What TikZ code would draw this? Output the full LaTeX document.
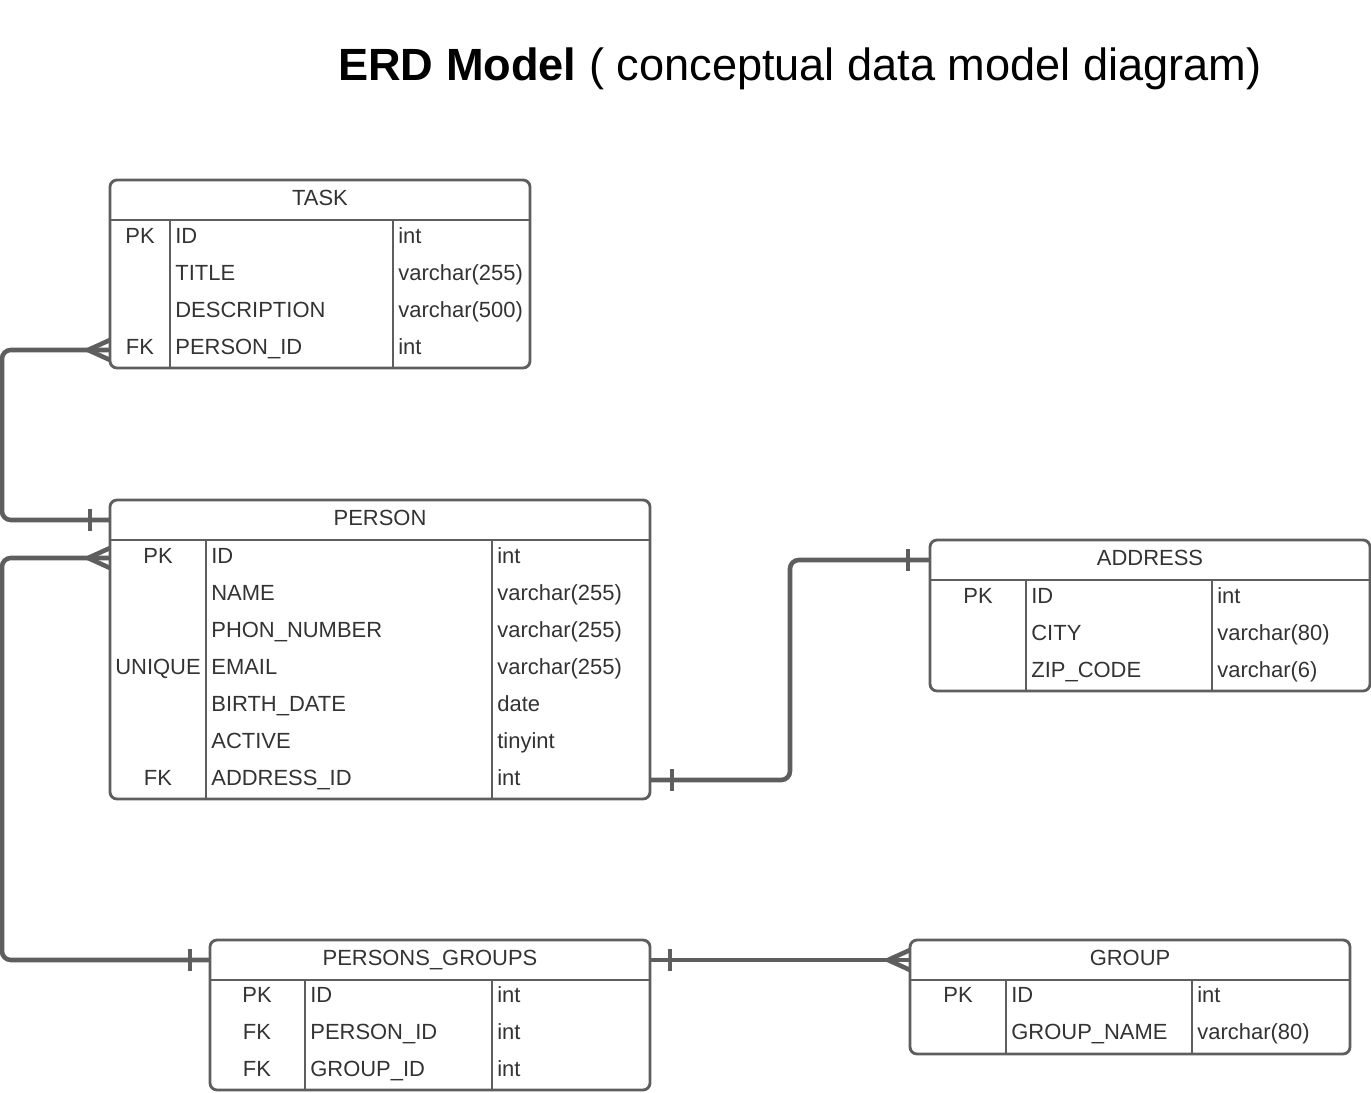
\documentclass[tikz,border=0pt]{standalone}
\usepackage{fontspec}
\setmainfont{Liberation Sans}
\usepackage{tikz}
\usetikzlibrary{positioning}
\definecolor{linegray}{HTML}{5E5E5E}
\definecolor{txtgray}{HTML}{333333}
\begin{document}
\begin{tikzpicture}[x=0.02cm,y=-0.02cm,
		tbl/.style={draw=linegray,line width=1.6pt,rounded corners=4pt},
		sep/.style={draw=linegray,line width=1.6pt},
		conn/.style={draw=linegray,line width=2.6pt,rounded corners=5pt},
		head/.style={text=txtgray,font=\fontsize{12.5}{15}\selectfont,anchor=base},
		key/.style={text=txtgray,font=\fontsize{12.5}{15}\selectfont,anchor=base},
		cell/.style={text=txtgray,font=\fontsize{12.5}{15}\selectfont,anchor=base west}]
		\tikzstyle{every node}+=[inner sep=0pt]
		\useasboundingbox (0,0) rectangle (1371,1092);
		\node [anchor=base] (title) at (800,80) {\fontsize{25.7}{30}\selectfont\textbf{ERD Model} ( conceptual data model diagram)};
		% TASK
		\draw [tbl] (110,180) rectangle (530,368);
		\draw [sep] (110,220) -- (530,220);
		\draw [sep] (170,220) -- (170,368);
		\draw [sep] (393,220) -- (393,368);
		\node [head] (task) at (320,205) {TASK};
		\node [key] (taskpk) at (140,243) {PK};
		\node [cell] (taskid) at (175,243) {ID};
		\node [cell] (taskidt) at (398,243) {int};
		\node [cell] (tasktitle) at (175,280) {TITLE};
		\node [cell] (tasktitlet) at (398,280) {varchar(255)};
		\node [cell] (taskdesc) at (175,317) {DESCRIPTION};
		\node [cell] (taskdesct) at (398,317) {varchar(500)};
		\node [key] (taskfkk) at (140,354) {FK};
		\node [cell] (taskpers) at (175,354) {PERSON\_ID};
		\node [cell] (taskperst) at (398,354) {int};
		% PERSON
		\draw [tbl] (110,500) rectangle (650,799);
		\draw [sep] (110,540) -- (650,540);
		\draw [sep] (206,540) -- (206,799);
		\draw [sep] (492,540) -- (492,799);
		\node [head] (person) at (380,525) {PERSON};
		\node [key] (personpk) at (158,563) {PK};
		\node [cell] (personidn) at (211,563) {ID};
		\node [cell] (personidt) at (497,563) {int};
		\node [cell] (personname) at (211,600) {NAME};
		\node [cell] (personnamet) at (497,600) {varchar(255)};
		\node [cell] (personphon) at (211,637) {PHON\_NUMBER};
		\node [cell] (personphont) at (497,637) {varchar(255)};
		\node [key] (personuq) at (158,674) {UNIQUE};
		\node [cell] (personmail) at (211,674) {EMAIL};
		\node [cell] (personmailt) at (497,674) {varchar(255)};
		\node [cell] (personbirth) at (211,711) {BIRTH\_DATE};
		\node [cell] (personbirtht) at (497,711) {date};
		\node [cell] (personact) at (211,748) {ACTIVE};
		\node [cell] (personactt) at (497,748) {tinyint};
		\node [key] (personfk) at (158,785) {FK};
		\node [cell] (personaddrn) at (211,785) {ADDRESS\_ID};
		\node [cell] (personaddrt) at (497,785) {int};
		% ADDRESS
		\draw [tbl] (930,540) rectangle (1370,691);
		\draw [sep] (930,580) -- (1370,580);
		\draw [sep] (1026,580) -- (1026,691);
		\draw [sep] (1212,580) -- (1212,691);
		\node [head] (address) at (1150,565) {ADDRESS};
		\node [key] (addrpk) at (978,603) {PK};
		\node [cell] (addrid) at (1031,603) {ID};
		\node [cell] (addridt) at (1217,603) {int};
		\node [cell] (addrcity) at (1031,640) {CITY};
		\node [cell] (addrcityt) at (1217,640) {varchar(80)};
		\node [cell] (addrzip) at (1031,677) {ZIP\_CODE};
		\node [cell] (addrzipt) at (1217,677) {varchar(6)};
		% PERSONS_GROUPS
		\draw [tbl] (210,940) rectangle (650,1090);
		\draw [sep] (210,980) -- (650,980);
		\draw [sep] (305,980) -- (305,1090);
		\draw [sep] (492,980) -- (492,1090);
		\node [head] (pg) at (430,965) {PERSONS\_GROUPS};
		\node [key] (pgpk) at (257,1002) {PK};
		\node [cell] (pgid) at (310,1002) {ID};
		\node [cell] (pgidt) at (497,1002) {int};
		\node [key] (pgfka) at (257,1039) {FK};
		\node [cell] (pgpers) at (310,1039) {PERSON\_ID};
		\node [cell] (pgperst) at (497,1039) {int};
		\node [key] (pgfkb) at (257,1076) {FK};
		\node [cell] (pggrp) at (310,1076) {GROUP\_ID};
		\node [cell] (pggrpt) at (497,1076) {int};
		% GROUP
		\draw [tbl] (910,940) rectangle (1350,1054);
		\draw [sep] (910,980) -- (1350,980);
		\draw [sep] (1006,980) -- (1006,1054);
		\draw [sep] (1192,980) -- (1192,1054);
		\node [head] (group) at (1130,965) {GROUP};
		\node [key] (grouppk) at (958,1002) {PK};
		\node [cell] (groupid) at (1011,1002) {ID};
		\node [cell] (groupidt) at (1197,1002) {int};
		\node [cell] (groupname) at (1011,1039) {GROUP\_NAME};
		\node [cell] (groupnamet) at (1197,1039) {varchar(80)};
		% connector ports
		\coordinate (taskfk) at (110,350);
		\coordinate (personhead) at (110,520);
		\coordinate (personid) at (110,558);
		\coordinate (personaddr) at (650,780);
		\coordinate (addrhead) at (930,560);
		\coordinate (pghead) at (210,960);
		\coordinate (pgright) at (650,960);
		\coordinate (grouphead) at (910,960);
		% TASK - PERSON
		\draw [conn] (taskfk) -- ++(-108,0) |- (personhead);
		\draw [conn,rounded corners=0pt] (taskfk) ++(0,-10) -- ++(-22,10) -- ++(22,10);
		\draw [conn] (personhead) ++(-20,-11) -- ++(0,22);
		% PERSON - PERSONS_GROUPS
		\draw [conn] (personid) -- ++(-108,0) |- (pghead);
		\draw [conn,rounded corners=0pt] (personid) ++(0,-10) -- ++(-22,10) -- ++(22,10);
		\draw [conn] (pghead) ++(-20,-11) -- ++(0,22);
		% PERSON - ADDRESS
		\draw [conn] (personaddr) -- ++(140,0) |- (addrhead);
		\draw [conn] (personaddr) ++(22,-11) -- ++(0,22);
		\draw [conn] (addrhead) ++(-22,-11) -- ++(0,22);
		% PERSONS_GROUPS - GROUP
		\draw [conn] (pgright) -- (grouphead);
		\draw [conn] (pgright) ++(20,-11) -- ++(0,22);
		\draw [conn,rounded corners=0pt] (grouphead) ++(0,-10) -- ++(-22,10) -- ++(22,10);
\end{tikzpicture}
\end{document}
